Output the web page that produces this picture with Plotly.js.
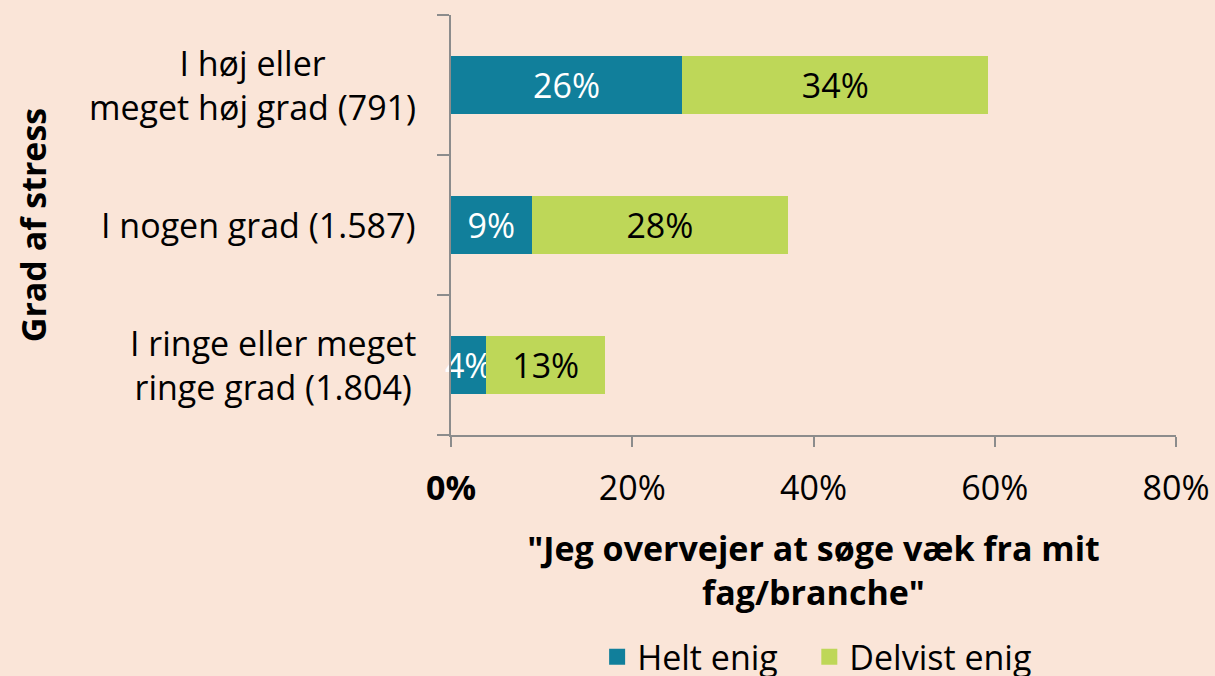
<!DOCTYPE html>
<html><head><meta charset="utf-8">
<script src="https://cdn.plot.ly/plotly-3.0.1.min.js"></script>
<style>html,body{margin:0;padding:0;background:#FAE5D8;}#chart{width:1215px;height:676px;}</style>
</head><body><div id="chart"></div>
<script>
const categories = ["I ringe eller meget<br>ringe grad (1.804)", "I nogen grad (1.587)", "I høj eller<br>meget høj grad (791)"];
const helt = [3.9, 8.9, 25.5];
const heltLabels = ["4%", "9%", "26%"];
const delvist = [13.1, 28.3, 33.8];
const delvistLabels = ["13%", "28%", "34%"];
const seriesNames = ["Helt enig", "Delvist enig"];
const seriesColors = ["#117F9B", "#BED758"];
const xTicks = [0, 20, 40, 60, 80];
const xTickLabels = ["<b>0%</b>", "20%", "40%", "60%", "80%"];

const font = "Open Sans, Noto Sans, sans-serif";
const FS = 34;
const yIdx = [0, 1, 2];

const traces = [
  {type:'bar', orientation:'h', name:seriesNames[0], y: yIdx, x: helt, text: heltLabels,
   textposition:'inside', insidetextanchor:'middle', constraintext:'none', textangle:0, cliponaxis:false,
   textfont:{color:'#ffffff', size:FS, family:font}, showlegend:false,
   marker:{color:seriesColors[0]}, width:0.41, hoverinfo:'x'},
  {type:'bar', orientation:'h', name:seriesNames[1], y: yIdx, x: delvist, text: delvistLabels,
   textposition:'inside', insidetextanchor:'middle', constraintext:'none', textangle:0, cliponaxis:false,
   textfont:{color:'#000000', size:FS, family:font}, showlegend:false,
   marker:{color:seriesColors[1]}, width:0.41, hoverinfo:'x'},
  {type:'scatter', mode:'markers', name:seriesNames[0] + '\u00a0\u00a0\u00a0', x:[null], y:[null],
   marker:{symbol:'square', size:20, color:seriesColors[0]}},
  {type:'scatter', mode:'markers', name:seriesNames[1], x:[null], y:[null],
   marker:{symbol:'square', size:20, color:seriesColors[1]}}
];

const annotations = categories.map((c, i) => ({
  xref:'paper', yref:'y', x:-0.046, y:i, xanchor:'right', yanchor:'middle',
  text:c, align:'center', showarrow:false, font:{size:FS, color:'#000', family:font}
}));

const layout = {
  width:1215, height:676,
  paper_bgcolor:'#FAE5D8', plot_bgcolor:'#FAE5D8',
  margin:{l:451, r:39, t:15, b:241, autoexpand:false},
  barmode:'stack', showlegend:true,
  font:{family:font, color:'#000'},
  xaxis:{range:[0,80], tickvals:xTicks, ticktext:xTickLabels, showgrid:false, zeroline:false, automargin:false,
    showline:true, linecolor:'#8c8c8c', linewidth:2, ticks:'outside', ticklen:10, tickwidth:2, tickcolor:'#8c8c8c',
    tickfont:{size:FS, family:font, color:'#000'}, ticklabelstandoff:12,
    title:{text:'<b>"Jeg overvejer at søge væk fra mit<br>fag/branche"</b>', font:{size:FS, family:font, color:'#000'}, standoff:28}},
  yaxis:{type:'linear', range:[-0.5, 2.5], tickvals:[-0.5, 0.5, 1.5, 2.5], showticklabels:false, showgrid:false, zeroline:false, automargin:false,
    showline:true, linecolor:'#8c8c8c', linewidth:2, ticks:'outside', ticklen:12, tickwidth:2, tickcolor:'#8c8c8c',
    title:{text:'<b>Grad af stress</b>', font:{size:FS, family:font, color:'#000'}, standoff:380}},
  legend:{orientation:'h', traceorder:'normal', x:0.505, xanchor:'center', y:-0.529, yanchor:'middle', font:{size:FS, family:font, color:'#000'}, bgcolor:'rgba(0,0,0,0)', itemwidth:30},
  annotations: annotations
};
Plotly.newPlot('chart', traces, layout, {displayModeBar:false, staticPlot:true});
</script></body></html>
